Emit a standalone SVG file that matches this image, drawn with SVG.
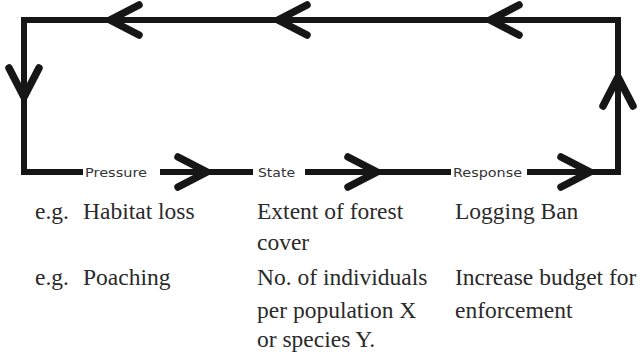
<svg xmlns="http://www.w3.org/2000/svg" xmlns:xlink="http://www.w3.org/1999/xlink" width="641" height="357" viewBox="0 0 641 357">
<style>
.line{fill:none;stroke:#161616;stroke-width:6;stroke-linejoin:miter}
.chev{fill:none;stroke:#161616;stroke-width:7.5;stroke-linecap:round;stroke-linejoin:round}
.lbl{font-family:"DejaVu Sans","Liberation Sans",sans-serif;font-size:12.5px;fill:#333}
.ex{font-family:"Liberation Serif","Times New Roman",serif;font-size:23.5px;fill:#2a2a2a}
</style>
<defs>
<path id="chev" class="chev" d="M-29,-15 L0,0 L-29,15"/>
</defs>
<rect width="641" height="357" fill="#ffffff"/>
<g id="connectors">
<path class="line" d="M83,172 H24 V20 H618 V172 H527"/>
<path class="line" d="M160,172 H253"/>
<path class="line" d="M305,172 H451"/>
<use xlink:href="#chev" transform="translate(110,20) rotate(180)"/>
<use xlink:href="#chev" transform="translate(278,20) rotate(180)"/>
<use xlink:href="#chev" transform="translate(490,20) rotate(180)"/>
<use xlink:href="#chev" transform="translate(24,97) rotate(90)"/>
<use xlink:href="#chev" transform="translate(618,77) rotate(-90)"/>
<use xlink:href="#chev" transform="translate(207,172)"/>
<use xlink:href="#chev" transform="translate(377,172)"/>
<use xlink:href="#chev" transform="translate(590,172)"/>
</g>
<g id="pressure">
<text class="lbl" x="85" y="177" textLength="62" lengthAdjust="spacingAndGlyphs">Pressure</text>
<text class="ex" x="35" y="219">e.g.</text>
<text class="ex" x="83" y="219">Habitat loss</text>
<text class="ex" x="35" y="285">e.g.</text>
<text class="ex" x="83" y="285">Poaching</text>
</g>
<g id="state">
<text class="lbl" x="258" y="177" textLength="37" lengthAdjust="spacingAndGlyphs">State</text>
<text class="ex" x="257" y="219">Extent of forest</text>
<text class="ex" x="257" y="250">cover</text>
<text class="ex" x="257" y="285">No. of individuals</text>
<text class="ex" x="257" y="318">per population X</text>
<text class="ex" x="257" y="347">or species Y.</text>
</g>
<g id="response">
<text class="lbl" x="453" y="177" textLength="69" lengthAdjust="spacingAndGlyphs">Response</text>
<text class="ex" x="455" y="219">Logging Ban</text>
<text class="ex" x="455" y="285">Increase budget for</text>
<text class="ex" x="455" y="318">enforcement</text>
</g>
</svg>
